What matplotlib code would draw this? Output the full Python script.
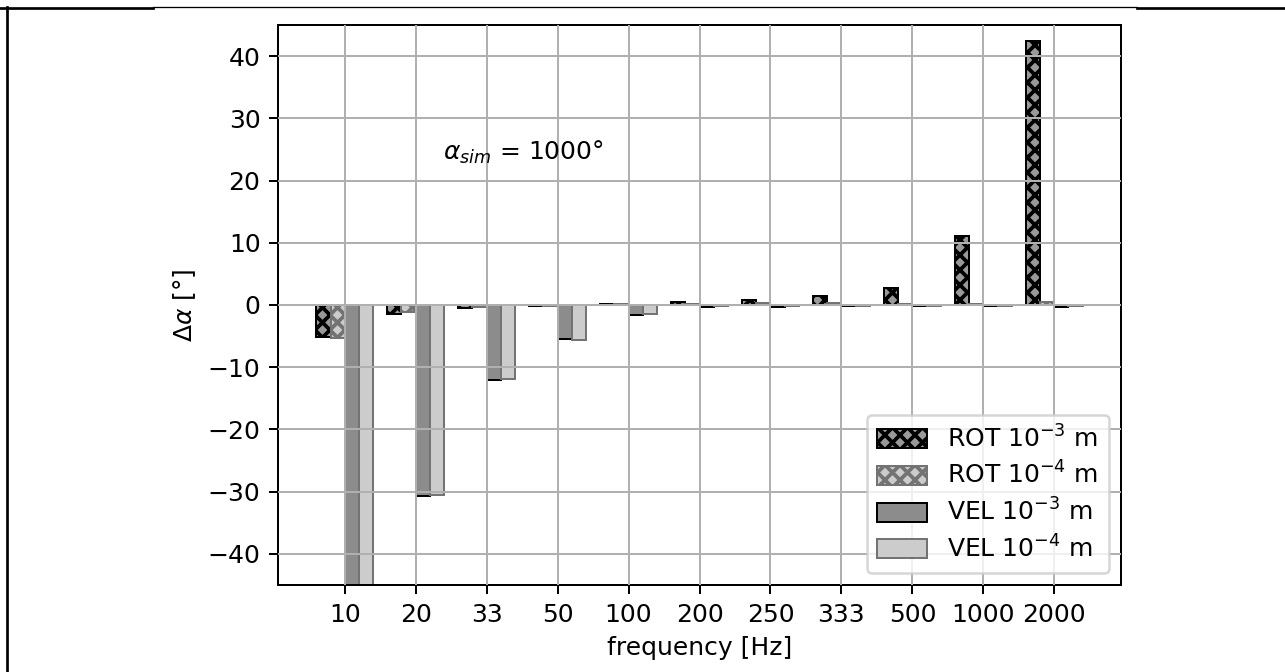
import numpy as np
import matplotlib
matplotlib.use("Agg")
import matplotlib.pyplot as plt
from matplotlib.lines import Line2D

# Frequencies tested and the angle error for each method / step size
frequencies = ["10", "20", "33", "50", "100", "200", "250", "333", "500", "1000", "2000"]
rot_1e3 = [-5.2, -1.5, -0.5, -0.2, 0.1, 0.5, 0.85, 1.4, 2.8, 11.1, 42.4]
rot_1e4 = [-5.3, -1.2, -0.3, -0.1, 0.1, 0.2, 0.3, 0.4, 0.1, 0.2, 0.5]
vel_1e3 = [-48.0, -30.7, -12.1, -5.5, -1.6, -0.35, -0.3, -0.2, -0.2, -0.1, -0.3]
vel_1e4 = [-48.0, -30.6, -11.9, -5.6, -1.4, -0.2, -0.2, -0.2, -0.2, -0.1, -0.2]

series_labels = [r"ROT $10^{-3}$ m", r"ROT $10^{-4}$ m",
                 r"VEL $10^{-3}$ m", r"VEL $10^{-4}$ m"]

plt.rcParams["hatch.linewidth"] = 1.5

DPI = 180
W, H = 1285, 672
fig = plt.figure(figsize=(W / DPI, H / DPI), dpi=DPI)
ax = fig.add_axes([278 / W, 1 - 585 / H, (1121 - 278) / W, (585 - 25) / H])

x = np.arange(len(frequencies))
w = 0.2

styles = [
    dict(color="0.6", edgecolor="black", hatch="xxxx", linewidth=0.8),
    dict(color="0.8", edgecolor="0.45", hatch="xxxx", linewidth=0.8),
    dict(color="0.55", edgecolor="black", linewidth=0.8),
    dict(color="0.8", edgecolor="0.45", linewidth=0.8),
]
all_series = [rot_1e3, rot_1e4, vel_1e3, vel_1e4]
offsets = [-1.5 * w, -0.5 * w, 0.5 * w, 1.5 * w]

for vals, off, st, lab in zip(all_series, offsets, styles, series_labels):
    ax.bar(x + off, vals, width=w, label=lab, **st)

ax.set_ylim(-45, 45)
ax.set_yticks(np.arange(-40, 41, 10))
ax.set_xticks(x)
ax.set_xticklabels(frequencies)
ax.grid(True, color="#b0b0b0", linewidth=0.8)
ax.set_axisbelow(False)

ax.set_xlabel("frequency [Hz]")
ax.set_ylabel(r"$\Delta\alpha$ [°]")
ax.text(1.38, 24.5, r"$\alpha_{sim}$ = 1000°", va="center", ha="left")

ax.legend(loc="lower right", labelspacing=0.38, handleheight=0.8)

# Page frame lines around the figure
def px_line(x0, y0, x1, y1, lw):
    fig.add_artist(Line2D([x0 / W, x1 / W], [1 - y0 / H, 1 - y1 / H],
                          transform=fig.transFigure, color="black", linewidth=lw))

px_line(0, 7.8, 153, 7.8, 1.08)
px_line(153, 7.4, 1137, 7.4, 0.52)
px_line(1137, 7.5, 1285, 7.5, 1.08)
px_line(7.4, 6.5, 7.4, 672, 1.08)

fig.savefig("out.png", dpi=DPI)
